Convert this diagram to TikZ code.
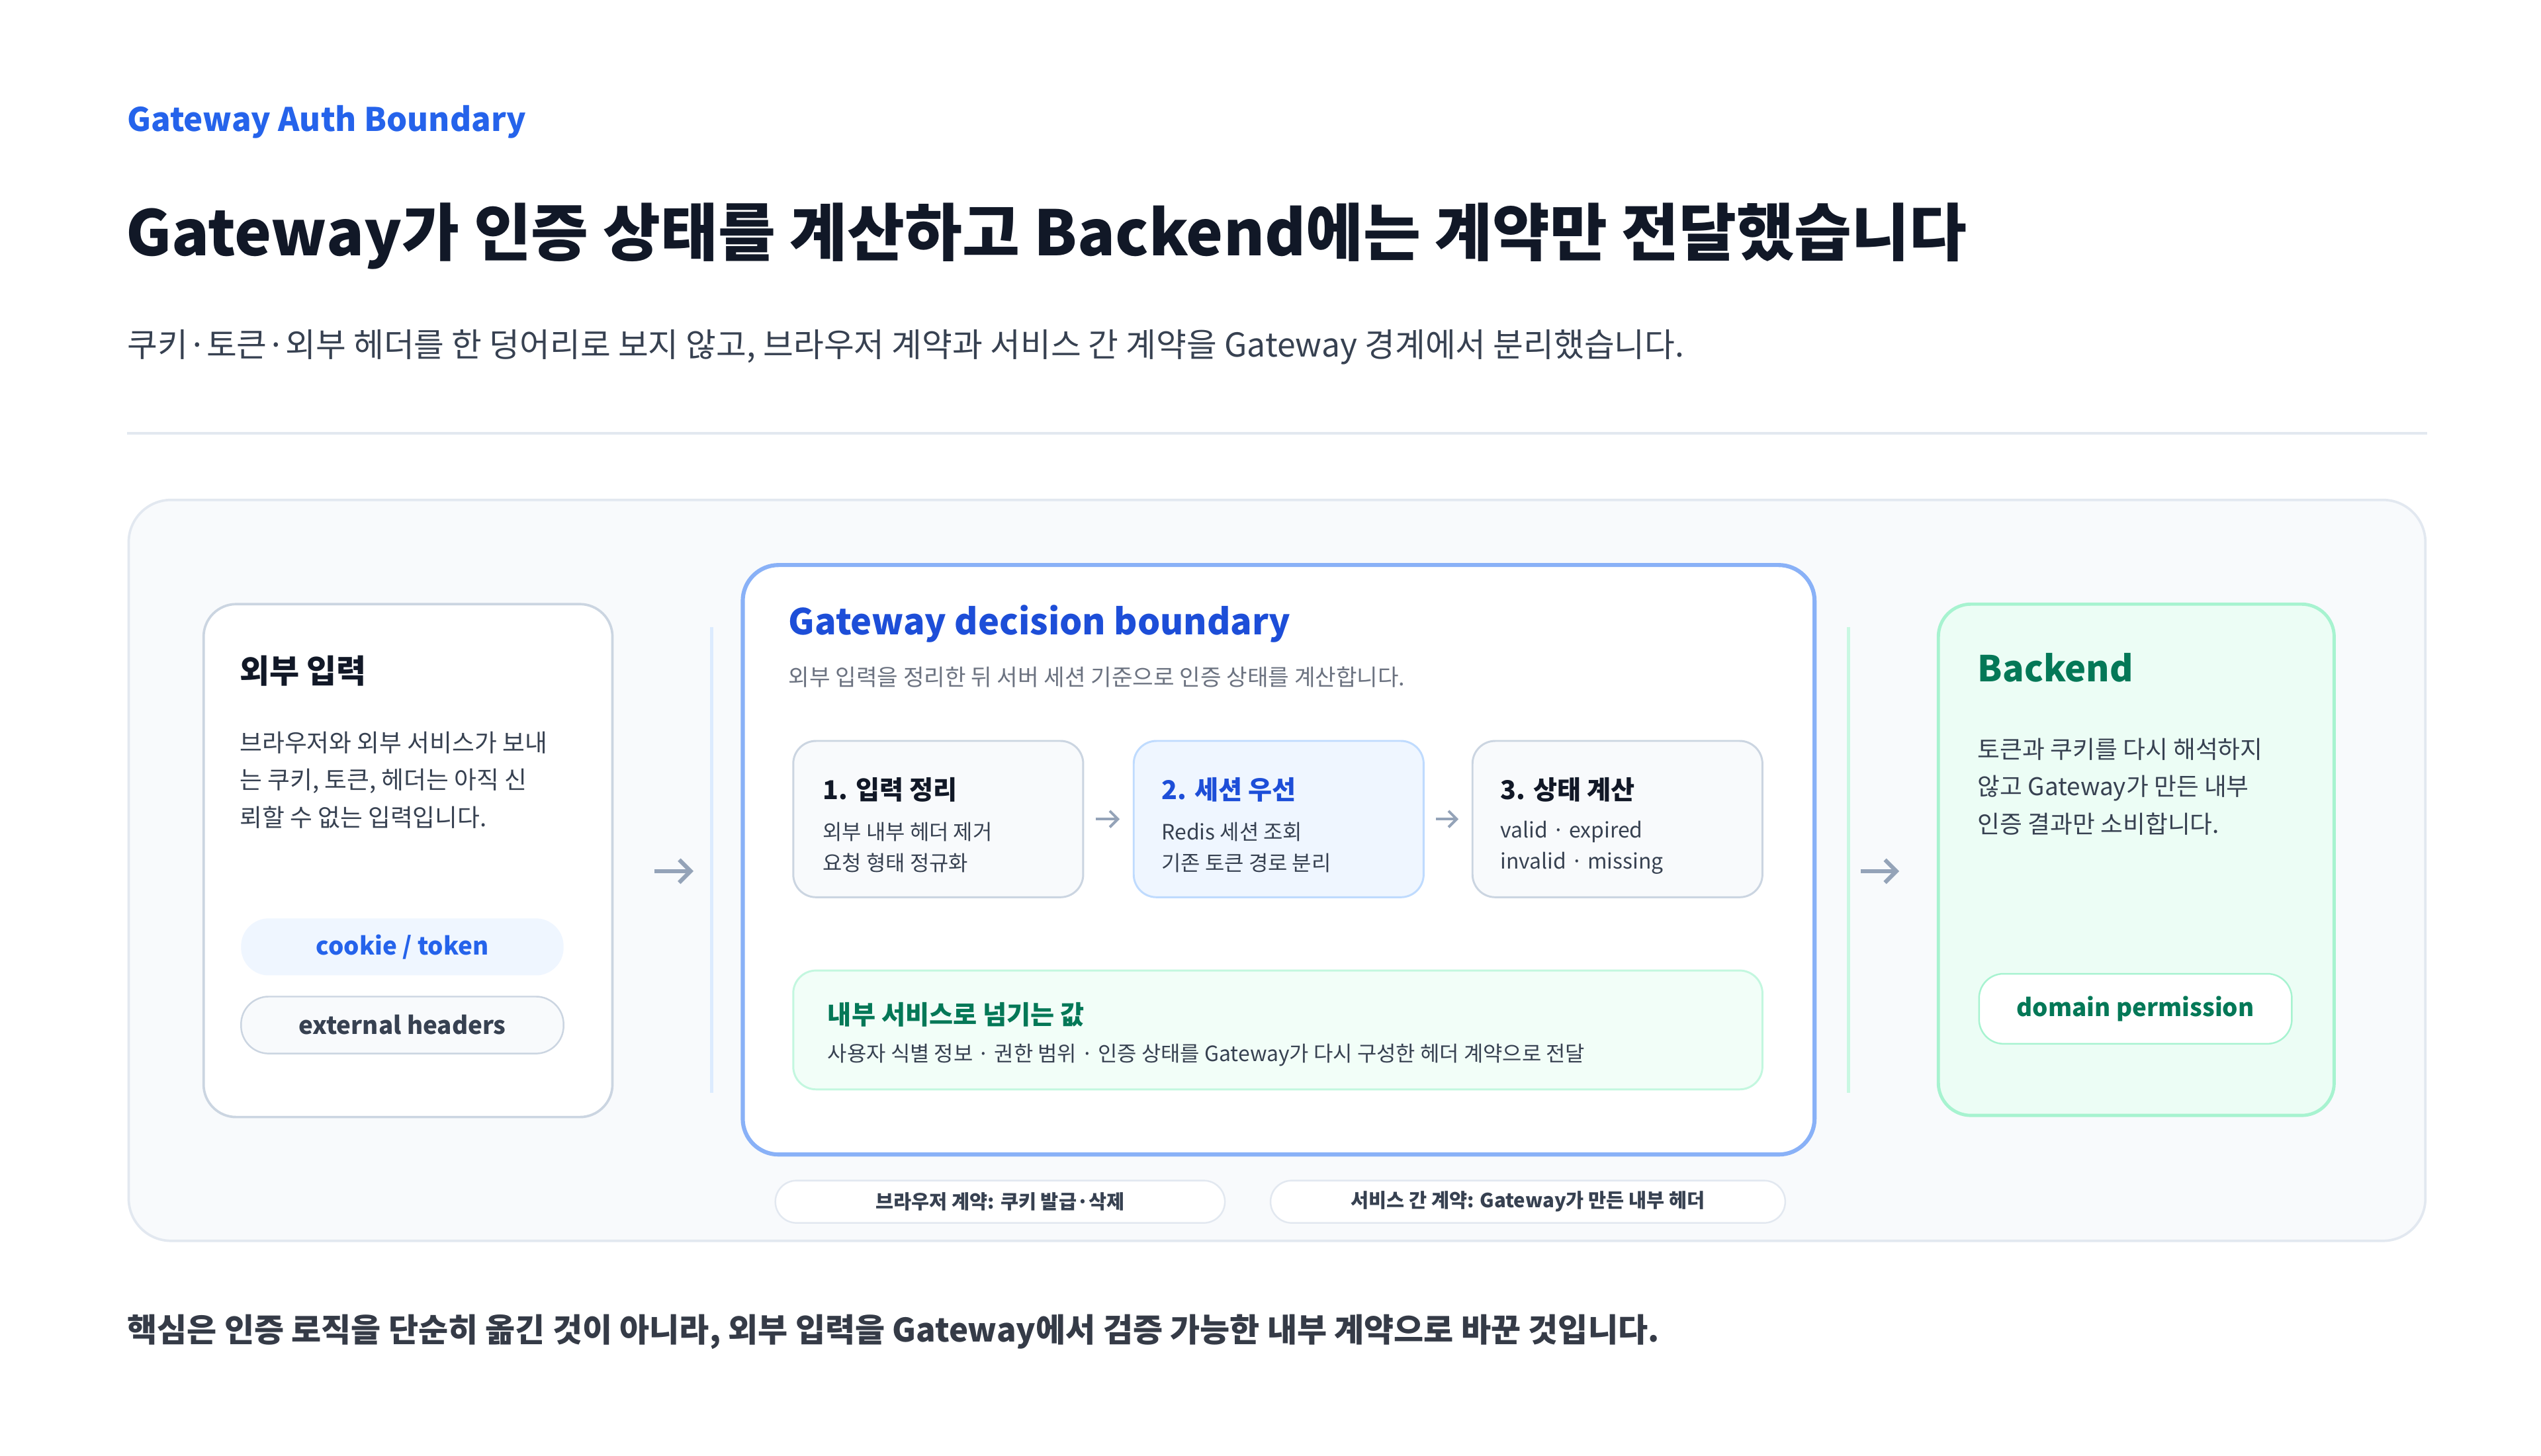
\documentclass[tikz,border=0pt]{standalone}
\usepackage{fontspec}
\setmainfont{Noto Sans CJK KR}
\usetikzlibrary{arrows.meta, positioning, backgrounds}
\definecolor{ink}{HTML}{111827}
\definecolor{body}{HTML}{374151}
\definecolor{mute}{HTML}{6B7280}
\definecolor{blue}{HTML}{2563EB}
\definecolor{deepblue}{HTML}{1D4ED8}
\definecolor{green}{HTML}{047857}
\definecolor{line}{HTML}{CBD5E1}
\definecolor{soft}{HTML}{E2E8F0}
\definecolor{panel}{HTML}{F8FAFC}
\definecolor{bluefill}{HTML}{EFF6FF}
\definecolor{bluerim}{HTML}{BFDBFE}
\definecolor{greenfill}{HTML}{ECFDF5}
\definecolor{greenrim}{HTML}{A7F3D0}
\definecolor{arrowgray}{HTML}{94A3B8}
\tikzset{%
	txt/.style={anchor=west, inner sep=0pt, align=left},
	card/.style={draw=line, fill=white, line width=1.5bp, rounded corners=20bp, inner sep=0pt},
	stage/.style={draw=line, fill=panel, line width=1.2bp, rounded corners=14bp,%
		minimum width=178bp, minimum height=96bp, inner sep=0pt},
	pill/.style={draw=line, fill=panel, line width=1bp, rounded corners=17bp,%
		minimum width=198bp, minimum height=35bp, inner sep=0pt, font=\fontsize{15}{18}\selectfont\bfseries, text=body},
	tag/.style={draw=soft, fill=white, line width=1bp, rounded corners=13bp,%
		minimum height=26bp, inner sep=0pt, font=\fontsize{12}{14}\selectfont\bfseries, text=body},
	flow/.style={-{Straight Barb[length=7bp, width=14bp]}, arrowgray, line width=2.5bp},
	smallflow/.style={-{Straight Barb[length=5bp, width=10bp]}, arrowgray, line width=1.6bp},
	sep/.style={line width=2bp}
}
\begin{document}
\begin{tikzpicture}[x=1bp, y=-1bp]
	\useasboundingbox[fill=white] (0,0) rectangle (1560,894);

	% heading
	\node [txt, text=blue, font=\fontsize{20}{24}\selectfont\bfseries] (kicker) at (78,75) {Gateway Auth Boundary};
	\node [txt, text=ink, font=\fontsize{38.5}{46}\selectfont\bfseries] (title) at (77,145) {Gateway가 인증 상태를 계산하고 Backend에는 계약만 전달했습니다};
	\node [txt, text=body, font=\fontsize{20.3}{24}\selectfont] (lead) at (78,213) {쿠키·토큰·외부 헤더를 한 덩어리로 보지 않고, 브라우저 계약과 서비스 간 계약을 Gateway 경계에서 분리했습니다.};
	\coordinate (r1) at (78,266);
	\coordinate (r2) at (1490,266);
	\draw [soft, line width=1.5bp] (r1) -- (r2);

	% panel
	\node [draw=soft, fill=panel, line width=1.5bp, rounded corners=26bp,%
		minimum width=1410bp, minimum height=455bp] (panel) at (784,534.5) {};

	% left card
	\node [card, minimum width=251bp, minimum height=315bp] (in) at (250.5,528.5) {};
	\node [txt, text=ink, font=\fontsize{20}{24}\selectfont\bfseries] (inT) at (147,412) {외부 입력};
	\node [txt, text=body, font=\fontsize{15}{23}\selectfont] (inB) at (147,479) {브라우저와 외부 서비스가 보내\\는 쿠키, 토큰, 헤더는 아직 신\\뢰할 수 없는 입력입니다.};
	\node [pill, draw=none, fill=bluefill, text=blue] (cookie) at (247,581.5) {cookie / token};
	\node [pill] (ext) at (247,629.5) {external headers};

	% separators
	\coordinate (s1a) at (437,385);
	\coordinate (s1b) at (437,671);
	\coordinate (s2a) at (1135,385);
	\coordinate (s2b) at (1135,671);
	\draw [sep, bluefill!60!bluerim] (s1a) -- (s1b);
	\draw [sep, greenfill!50!greenrim] (s2a) -- (s2b);

	% gateway
	\node [card, draw=blue!35!bluerim, line width=2.5bp, rounded corners=22bp,%
		minimum width=658bp, minimum height=362bp] (gw) at (785,528) {};
	\node [txt, text=deepblue, font=\fontsize{22}{26}\selectfont\bfseries] (gwT) at (484,383) {Gateway decision boundary};
	\node [txt, text=mute, font=\fontsize{14}{17}\selectfont] (gwB) at (484,416) {외부 입력을 정리한 뒤 서버 세션 기준으로 인증 상태를 계산합니다.};

	\node [stage] (st1) at (576,503) {};
	\node [stage, fill=bluefill, draw=bluerim] (st2) at (785,503) {};
	\node [stage] (st3) at (993,503) {};
	\node [txt, text=ink, font=\fontsize{16}{19}\selectfont\bfseries] at (505,485) {1. 입력 정리};
	\node [txt, text=body, font=\fontsize{13}{19}\selectfont] at (505,520.5) {외부 내부 헤더 제거\\요청 형태 정규화};
	\node [txt, text=deepblue, font=\fontsize{16}{19}\selectfont\bfseries] at (713,485) {2. 세션 우선};
	\node [txt, text=body, font=\fontsize{13}{19}\selectfont] at (713,520.5) {Redis 세션 조회\\기존 토큰 경로 분리};
	\node [txt, text=ink, font=\fontsize{16}{19}\selectfont\bfseries] at (921,485) {3. 상태 계산};
	\node [txt, text=body, font=\fontsize{13}{19}\selectfont] at (921,520.5) {valid · expired\\invalid · missing};
	\draw [smallflow, shorten <=7bp, shorten >=8bp] (st1) -- (st2);
	\draw [smallflow, shorten <=7bp, shorten >=8bp] (st2) -- (st3);

	\node [draw=greenfill!40!greenrim, fill=greenfill!70!white, line width=1.2bp, rounded corners=14bp,%
		minimum width=595bp, minimum height=73bp] (pass) at (784.5,632.5) {};
	\node [txt, text=green, font=\fontsize{16}{19}\selectfont\bfseries] at (508,623) {내부 서비스로 넘기는 값};
	\node [txt, text=body, font=\fontsize{13}{16}\selectfont] at (508,648) {사용자 식별 정보 · 권한 범위 · 인증 상태를 Gateway가 다시 구성한 헤더 계약으로 전달};

	% contract tags
	\node [tag, minimum width=276bp] (browser) at (614,738) {브라우저 계약: 쿠키 발급·삭제};
	\node [tag, minimum width=316bp] (service) at (938,738) {서비스 간 계약: Gateway가 만든 내부 헤더};

	% backend
	\node [card, fill=greenfill, draw=greenrim, line width=2bp,%
		minimum width=243bp, minimum height=314bp] (be) at (1311.5,528) {};
	\node [txt, text=green, font=\fontsize{22}{26}\selectfont\bfseries] (beT) at (1214,410) {Backend};
	\node [txt, text=body, font=\fontsize{15}{23}\selectfont] (beB) at (1214,483) {토큰과 쿠키를 다시 해석하지\\않고 Gateway가 만든 내부\\인증 결과만 소비합니다.};
	\node [pill, fill=white, draw=greenrim, minimum width=192bp, minimum height=43bp, rounded corners=15bp, text=green] (perm) at (1311,619.5) {domain permission};

	% flow
	\coordinate (mid) at (0,535);
	\draw [flow, shorten <=25bp, shorten >=29bp] (mid -| in.east) -- (mid -| gw.west);
	\draw [flow, shorten <=27bp, shorten >=23bp] (mid -| gw.east) -- (mid -| be.west);

	% closing
	\node [txt, text=ink!85!white, font=\fontsize{20}{24}\selectfont\bfseries] (close) at (78,818) {핵심은 인증 로직을 단순히 옮긴 것이 아니라, 외부 입력을 Gateway에서 검증 가능한 내부 계약으로 바꾼 것입니다.};
\end{tikzpicture}
\end{document}
